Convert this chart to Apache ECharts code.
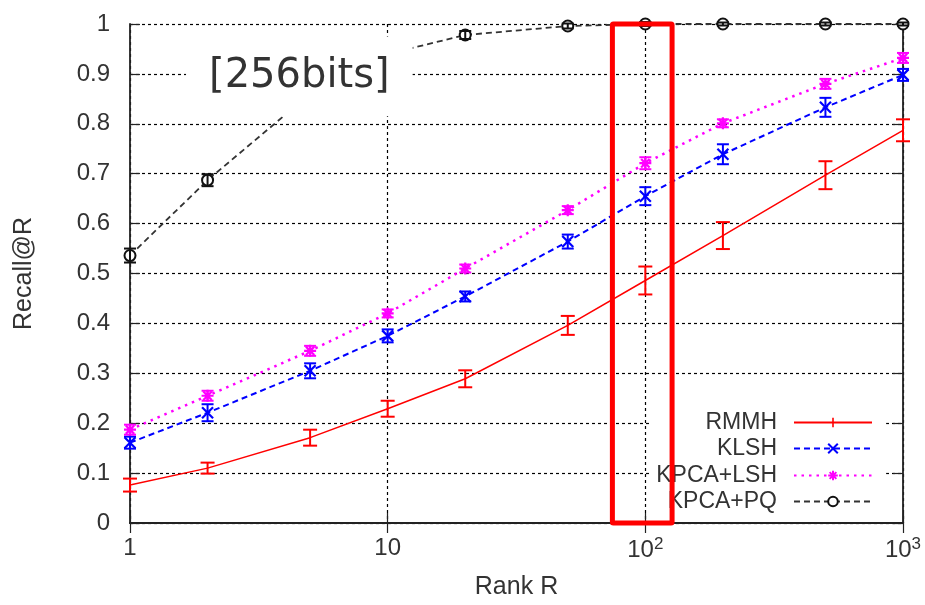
<!DOCTYPE html>
<html>
<head>
<meta charset="utf-8">
<script src="https://cdn.jsdelivr.net/npm/echarts@6/dist/echarts.min.js"></script>
<style>
html,body{margin:0;padding:0;background:#fff;}
#chart{width:925px;height:605px;}
</style>
</head>
<body>
<div id="chart"></div>
<script>
// ---- data ----
const ranks = [1, 2, 5, 10, 20, 50, 100, 200, 500, 1000];
const seriesNames = ['RMMH', 'KLSH', 'KPCA+LSH', 'KPCA+PQ'];
const rmmh      = [0.076, 0.110, 0.171, 0.229, 0.289, 0.396, 0.486, 0.576, 0.697, 0.787];
const rmmhErr   = [0.013, 0.011, 0.016, 0.016, 0.017, 0.019, 0.028, 0.027, 0.028, 0.022];
const klsh      = [0.161, 0.221, 0.305, 0.375, 0.454, 0.564, 0.655, 0.739, 0.833, 0.898];
const klshErr   = [0.012, 0.017, 0.015, 0.013, 0.010, 0.014, 0.018, 0.020, 0.019, 0.012];
const kpcaLsh   = [0.187, 0.255, 0.345, 0.420, 0.510, 0.627, 0.721, 0.801, 0.880, 0.932];
const kpcaLshErr= [0.010, 0.010, 0.010, 0.008, 0.008, 0.008, 0.012, 0.008, 0.010, 0.010];
const kpcaPq    = [0.536, 0.687, 0.860, 0.940, 0.978, 0.996, 1.000, 1.000, 1.000, 1.000];
const kpcaPqErr = [0.014, 0.012, 0.008, 0.006, 0.008, 0.005, 0.004, 0.003, 0.003, 0.003];
const xTickValues = [1, 10, 100, 1000];
const xTickLabels = ['1', '10', '10^2', '10^3'];
const yTickLabels = ['0','0.1','0.2','0.3','0.4','0.5','0.6','0.7','0.8','0.9','1'];
const annotationText = '[256bits]';
const highlightRankRange = [74.5, 127];

// ---- helpers ----
const pairs = (vals) => ranks.map((r, i) => [r, vals[i]]);
const triples = (vals, errs) => ranks.map((r, i) => [r, vals[i], errs[i]]);

function errRender(color, capHalf, lw) {
  return function (params, api) {
    const x = api.value(0), y = api.value(1), e = api.value(2);
    const t = api.coord([x, y + e]);
    const b = api.coord([x, y - e]);
    const st = { stroke: color, lineWidth: lw, fill: null };
    return {
      type: 'group',
      children: [
        { type: 'line', shape: { x1: t[0], y1: t[1], x2: b[0], y2: b[1] }, style: st },
        { type: 'line', shape: { x1: t[0] - capHalf, y1: t[1], x2: t[0] + capHalf, y2: t[1] }, style: st },
        { type: 'line', shape: { x1: b[0] - capHalf, y1: b[1], x2: b[0] + capHalf, y2: b[1] }, style: st }
      ]
    };
  };
}

const FONT = '"Liberation Sans", Arial, sans-serif';
const TXT = '#333';

const colors = ['#ff0000', '#0000ff', '#ff00ff', '#111111'];
const lineStyles = [
  { color: colors[0], width: 1.5, type: 'solid' },
  { color: colors[1], width: 2, type: [6, 4] },
  { color: colors[2], width: 2.5, type: [2.5, 5] },
  { color: '#333333', width: 1.8, type: [6, 4] }
];
const symbols = [
  'path://M0,0M12,12M5,0h2v12h-2z',
  'path://M0,0L10,10M10,0L0,10',
  'path://M5,0L5,10M0,5L10,5M1.5,1.5L8.5,8.5M8.5,1.5L1.5,8.5',
  'emptyCircle'
];
const symbolSizes = [12, 11, 12, 11];
const values = [rmmh, klsh, kpcaLsh, kpcaPq];
const errs = [rmmhErr, klshErr, kpcaLshErr, kpcaPqErr];

const series = [];
seriesNames.forEach((name, i) => {
  series.push({
    name: name,
    type: 'line',
    xAxisIndex: 0, yAxisIndex: 0,
    data: pairs(values[i]),
    symbol: symbols[i],
    symbolSize: symbolSizes[i],
    showSymbol: i !== 0,
    lineStyle: lineStyles[i],
    itemStyle: {
      color: colors[i],
      borderColor: colors[i],
      borderWidth: i === 0 ? 0 : (i === 3 ? 1.6 : 2.2)
    },
    clip: false,
    z: 2
  });
  series.push({
    name: name + ' err',
    type: 'custom',
    xAxisIndex: 0, yAxisIndex: 0,
    data: triples(values[i], errs[i]),
    encode: { x: 0, y: 1 },
    renderItem: errRender(colors[i], i === 0 ? 7 : 6, 2),
    clip: false,
    z: 3
  });
});

const legendCenters = [423, 449, 476, 502];
const legends = seriesNames.map((name, i) => ({
  data: [name],
  orient: 'vertical',
  right: 52,
  top: legendCenters[i] - 12,
  align: 'right',
  padding: 0,
  itemWidth: 78,
  itemHeight: 12,
  selectedMode: false,
  textStyle: { fontFamily: FONT, fontSize: 23, color: TXT, padding: [0, 12, 0, 0] }
}));

const chart = echarts.init(document.getElementById('chart'), null, { renderer: 'canvas' });
const option = {
  animation: false,
  backgroundColor: '#fff',
  grid: { left: 130, right: 22, top: 24, bottom: 79, containLabel: false },
  legend: legends,
  xAxis: [
    {
      type: 'log', logBase: 10, min: 1, max: 1000, position: 'bottom',
      name: 'Rank R', nameLocation: 'middle', nameGap: 52,
      nameTextStyle: { fontFamily: FONT, fontSize: 25, color: TXT },
      axisLine: { show: true, lineStyle: { color: '#222', width: 1.8 } },
      axisTick: { show: true, inside: true, length: 10, lineStyle: { color: '#222', width: 1.2 } },
      minorTick: { show: false },
      splitLine: { show: true, lineStyle: { color: '#000', width: 1.2, type: [3, 3] } },
      axisLabel: {
        margin: 13, fontFamily: FONT, fontSize: 24, color: TXT,
        formatter: function (v) {
          const k = xTickValues.findIndex(t => Math.abs(t - v) < 1e-6 * t);
          if (k < 0) return '';
          const s = xTickLabels[k];
          if (s.indexOf('^') >= 0) {
            const p = s.split('^');
            return p[0] + '{s|' + p[1] + '}';
          }
          return s;
        },
        rich: { s: { fontFamily: FONT, fontSize: 17, color: TXT, padding: [0, 0, 12, 0] } }
      }
    },
    {
      type: 'log', logBase: 10, min: 1, max: 1000, position: 'top',
      axisLine: { show: true, lineStyle: { color: '#222', width: 1.8 } },
      axisTick: { show: true, inside: true, length: 10, lineStyle: { color: '#222', width: 1.2 } },
      axisLabel: { show: false },
      splitLine: { show: false }
    }
  ],
  yAxis: [
    {
      type: 'value', min: 0, max: 1, interval: 0.1, position: 'left',
      name: 'Recall@R', nameLocation: 'middle', nameGap: 93,
      nameTextStyle: { fontFamily: FONT, fontSize: 25, color: TXT },
      axisLine: { show: true, lineStyle: { color: '#222', width: 1.8 } },
      axisTick: { show: true, inside: true, length: 10, lineStyle: { color: '#222', width: 1.2 } },
      splitLine: { show: true, lineStyle: { color: '#000', width: 1.2, type: [3, 3] } },
      axisLabel: {
        margin: 20, fontFamily: FONT, fontSize: 24, color: TXT,
        formatter: function (v) { return yTickLabels[Math.round(v * 10)]; }
      }
    },
    {
      type: 'value', min: 0, max: 1, interval: 0.1, position: 'right',
      axisLine: { show: true, lineStyle: { color: '#222', width: 1.8 } },
      axisTick: { show: true, inside: true, length: 10, lineStyle: { color: '#222', width: 1.2 } },
      axisLabel: { show: false },
      splitLine: { show: false }
    }
  ],
  series: series
};
chart.setOption(option);

// Annotations placed from the chart's own scales
const pA = chart.convertToPixel({ gridIndex: 0 }, [highlightRankRange[0], 1]);
const pB = chart.convertToPixel({ gridIndex: 0 }, [highlightRankRange[1], 0]);
const boxA = chart.convertToPixel({ gridIndex: 0 }, [1.65, 0.975]);
const boxB = chart.convertToPixel({ gridIndex: 0 }, [12.5, 0.815]);
const keyA = chart.convertToPixel({ gridIndex: 0 }, [104, 0.23]);
const keyB = chart.convertToPixel({ gridIndex: 0 }, [860, 0.02]);

chart.setOption({
  graphic: [
    {
      type: 'rect', z: 1, silent: true,
      shape: { x: keyA[0], y: keyA[1], width: keyB[0] - keyA[0], height: keyB[1] - keyA[1] },
      style: { fill: '#fff' }
    },
    {
      type: 'rect', z: 50, silent: true,
      shape: { x: boxA[0], y: boxA[1], width: boxB[0] - boxA[0], height: boxB[1] - boxA[1] },
      style: { fill: '#fff' }
    },
    {
      type: 'text', z: 51, silent: true,
      x: (boxA[0] + boxB[0]) / 2, y: (boxA[1] + boxB[1]) / 2,
      style: {
        text: annotationText, fill: '#333',
        font: '40px "DejaVu Sans", sans-serif',
        textAlign: 'center', textVerticalAlign: 'middle'
      }
    },
    {
      type: 'rect', z: 100, silent: true,
      shape: { x: pA[0], y: pA[1], width: pB[0] - pA[0], height: pB[1] - pA[1], r: 1 },
      style: { fill: null, stroke: '#ff0000', lineWidth: 5 }
    }
  ]
});
</script>
</body>
</html>
